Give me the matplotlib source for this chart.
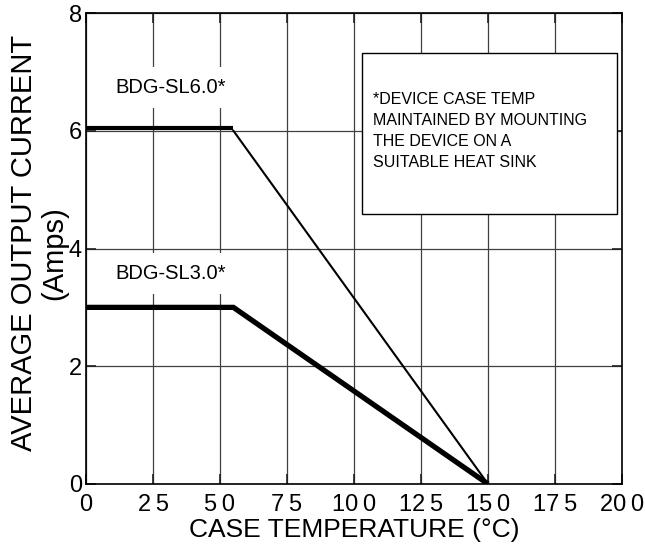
import numpy as np
import matplotlib.pyplot as plt
from matplotlib.patches import Rectangle
from matplotlib.transforms import offset_copy

plt.rcParams['font.family'] = ['Liberation Sans', 'DejaVu Sans']

# derating curves
temp_pts = [0, 55, 150]
sl6_current = [6, 6, 0]
sl3_current = [3, 3, 0]

x_ticks = [0, 25, 50, 75, 100, 125, 150, 175, 200]
x_ticklabels = ['0', '2\u20095', '5\u20090', '7\u20095', '10\u20090',
                '12\u20095', '15\u20090', '17\u20095', '20\u20090']
y_ticks = [0, 2, 4, 6, 8]

note_lines = ['*DEVICE CASE TEMP', 'MAINTAINED BY MOUNTING',
              'THE DEVICE ON A', 'SUITABLE HEAT SINK']

fig = plt.figure(figsize=(6.45, 5.56), dpi=100)
ax = fig.add_axes([86/645, 1-484/556, (622-86)/645, (484-13)/556])

ax.set_xlim(0, 200)
ax.set_ylim(0, 8)
ax.set_xticks(x_ticks)
ax.set_xticklabels(x_ticklabels)
ax.set_yticks(y_ticks)
ax.tick_params(direction='in', length=7, labelsize=17, width=1.2,
               top=True, right=True, color='#202020')
ax.tick_params(axis='x', pad=7)
ax.tick_params(axis='y', pad=3)
ax.grid(True, color='#404040', linewidth=0.9)
ax.set_axisbelow(True)
for s in ax.spines.values():
    s.set_linewidth(1.2)

# note box (covers the grid)
box = Rectangle((103, 4.58), 95, 2.74, facecolor='white', edgecolor='black',
                linewidth=1.0, zorder=1.5)
ax.add_patch(box)
ax.text(107, 6.66, '\n'.join(note_lines), fontsize=11.5, va='top', ha='left',
        linespacing=1.5, zorder=2)

# BDG-SL6.0: thick flat part, thin slope
up = offset_copy(ax.transData, fig=fig, x=0, y=2.5, units='dots')
ax.plot(temp_pts[:2], sl6_current[:2], color='black', lw=3, transform=up,
        solid_capstyle='butt', zorder=3)
ax.plot(temp_pts[1:], sl6_current[1:], color='black', lw=1.5, zorder=3)

# BDG-SL3.0
ax.plot(temp_pts, sl3_current, color='black', lw=3.8, zorder=3,
        solid_joinstyle='miter', solid_capstyle='butt')

lbl = dict(fontsize=14.5, ha='center', va='center', zorder=2,
           bbox=dict(facecolor='white', edgecolor='none', pad=8))
ax.text(31.5, 6.74, 'BDG-SL6.0*', **lbl)
ax.text(31.5, 3.57, 'BDG-SL3.0*', **lbl)

ax.set_xlabel('CASE TEMPERATURE (°C)', fontsize=19, labelpad=2)
fig.text(24/645, 1-243/556, 'AVERAGE OUTPUT CURRENT', fontsize=21,
         rotation=90, ha='center', va='center')
fig.text(54/645, 1-253/556, '(Amps)', fontsize=21,
         rotation=90, ha='center', va='center')

fig.savefig('out.png', dpi=100)
